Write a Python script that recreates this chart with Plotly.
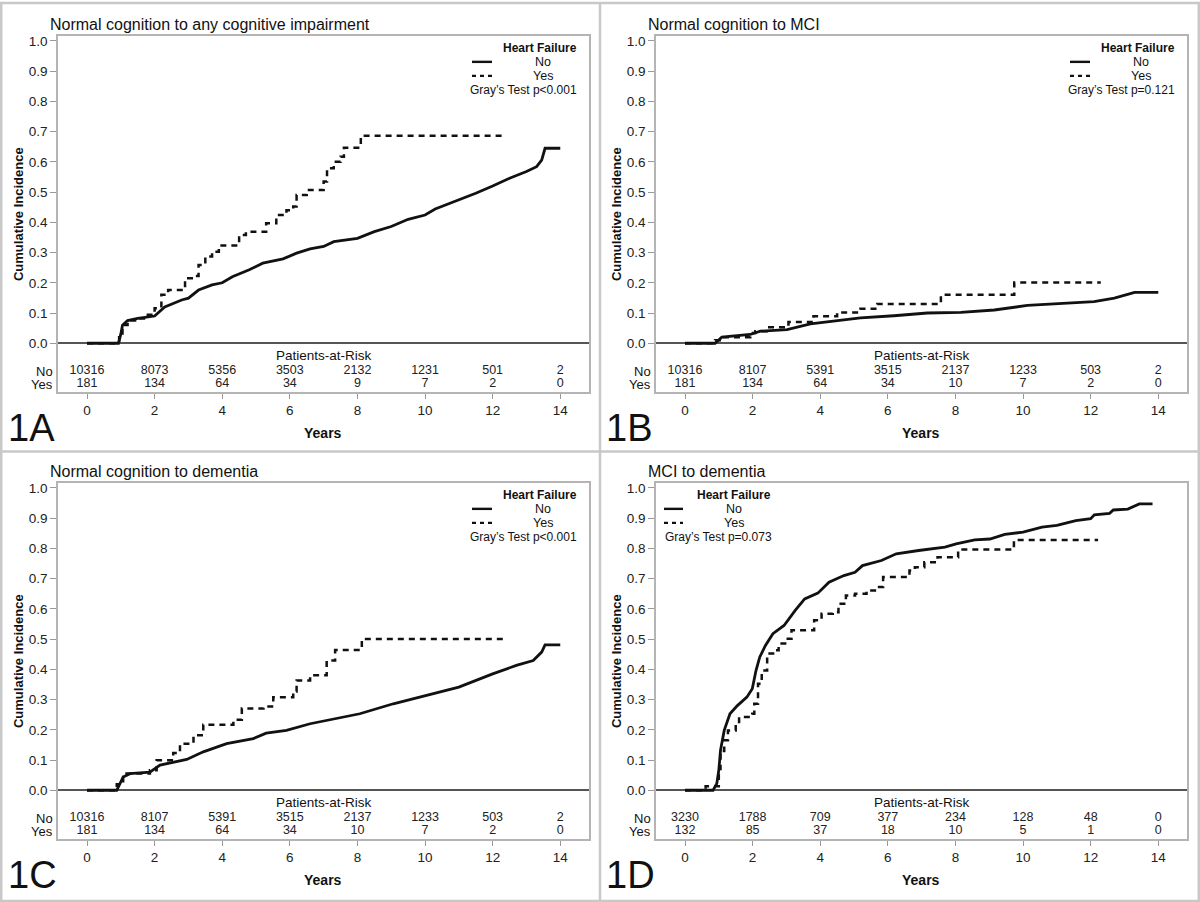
import plotly.graph_objects as go

###############################################################################
# Cumulative incidence of cognitive impairment by heart failure status (1A-1D)
###############################################################################
FONT = "Liberation Sans, Arial, sans-serif"
W, H = 1200, 902

panel_titles = ["Normal cognition to any cognitive impairment",
                "Normal cognition to MCI",
                "Normal cognition to dementia",
                "MCI to dementia"]
panel_labels = ["1A", "1B", "1C", "1D"]
grays_test = ["Gray\u2019s Test p<0.001", "Gray\u2019s Test p=0.121",
              "Gray\u2019s Test p<0.001", "Gray\u2019s Test p=0.073"]

x_ticks = [0, 2, 4, 6, 8, 10, 12, 14]
y_ticks = [0.0, 0.1, 0.2, 0.3, 0.4, 0.5, 0.6, 0.7, 0.8, 0.9, 1.0]
risk_years = [0, 2, 4, 6, 8, 10, 12, 14]

# --- 1A: normal cognition to any cognitive impairment
a_no_t = [0, 0.93, 1.0, 1.05, 1.2, 1.5, 2.0, 2.3, 2.8, 3.0, 3.3, 3.7, 4.0, 4.3, 4.8,
          5.2, 5.8, 6.2, 6.6, 7.0, 7.3, 7.8, 8.0, 8.5, 9.0, 9.5, 10.0, 10.3, 11.0,
          11.5, 12.0, 12.5, 13.0, 13.3, 13.45, 13.55, 14.0]
a_no_ci = [0, 0, 0.03, 0.06, 0.075, 0.082, 0.09, 0.12, 0.143, 0.149, 0.176, 0.193,
           0.2, 0.22, 0.243, 0.265, 0.279, 0.298, 0.312, 0.32, 0.336, 0.345, 0.347,
           0.369, 0.386, 0.41, 0.424, 0.444, 0.474, 0.496, 0.52, 0.546, 0.568,
           0.584, 0.606, 0.645, 0.645]
a_yes_t = [0, 0.95, 1.05, 1.2, 1.5, 1.8, 2.0, 2.2, 2.4, 2.9, 3.1, 3.3, 3.5, 3.7, 3.9,
           4.5, 4.7, 5.3, 5.6, 5.9, 6.1, 6.2, 6.5, 7.0, 7.1, 7.3, 7.5, 7.6, 8.1, 12.3]
a_yes_ci = [0, 0.02, 0.06, 0.075, 0.082, 0.094, 0.116, 0.16, 0.176, 0.215, 0.222,
            0.259, 0.287, 0.303, 0.323, 0.358, 0.369, 0.397, 0.424, 0.44, 0.452,
            0.49, 0.507, 0.535, 0.579, 0.6, 0.617, 0.647, 0.686, 0.686]
a_risk_no = [10316, 8073, 5356, 3503, 2132, 1231, 501, 2]
a_risk_yes = [181, 134, 64, 34, 9, 7, 2, 0]

# --- 1B: normal cognition to MCI
b_no_t = [0, 0.89, 1.09, 1.93, 2.23, 3.02, 3.71, 4.40, 5.19, 6.18, 7.17, 8.16, 9.15,
          10.13, 11.1, 12.1, 12.7, 13.1, 13.3, 14.0]
b_no_ci = [0, 0, 0.02, 0.029, 0.04, 0.045, 0.064, 0.073, 0.084, 0.091, 0.1, 0.102,
           0.11, 0.125, 0.131, 0.138, 0.149, 0.16, 0.168, 0.168]
b_yes_t = [0, 0.89, 1.09, 1.93, 2.08, 2.42, 3.06, 3.8, 4.5, 5.19, 5.69, 7.57, 9.74, 12.3]
b_yes_ci = [0, 0.01, 0.02, 0.034, 0.04, 0.053, 0.07, 0.089, 0.102, 0.114, 0.13,
            0.16, 0.201, 0.201]
b_risk_no = [10316, 8107, 5391, 3515, 2137, 1233, 503, 2]
b_risk_yes = [181, 134, 64, 34, 10, 7, 2, 0]

# --- 1C: normal cognition to dementia
c_no_t = [0, 0.88, 1.07, 1.27, 1.86, 2.16, 2.95, 3.44, 4.13, 4.92, 5.3, 5.9, 6.6,
          7.09, 7.88, 8.07, 9.06, 10.05, 11.0, 12.0, 12.7, 13.2, 13.45, 13.55, 14.0]
c_no_ci = [0, 0, 0.044, 0.055, 0.06, 0.083, 0.102, 0.127, 0.154, 0.171, 0.189,
           0.198, 0.22, 0.231, 0.248, 0.253, 0.286, 0.314, 0.341, 0.385, 0.413,
           0.429, 0.457, 0.481, 0.481]
c_yes_t = [0, 0.88, 1.07, 1.17, 1.86, 2.06, 2.55, 2.75, 3.15, 3.44, 4.33, 4.58, 5.22,
           5.51, 6.1, 6.2, 6.6, 7.09, 7.34, 8.13, 12.3]
c_yes_ci = [0, 0.02, 0.044, 0.055, 0.066, 0.099, 0.123, 0.154, 0.182, 0.217, 0.233,
            0.27, 0.277, 0.308, 0.327, 0.363, 0.38, 0.429, 0.464, 0.5, 0.5]
c_risk_no = [10316, 8107, 5391, 3515, 2137, 1233, 503, 2]
c_risk_yes = [181, 134, 64, 34, 10, 7, 2, 0]

# --- 1D: MCI to dementia
d_no_t = [0, 0.83, 0.94, 1.0, 1.05, 1.16, 1.33, 1.55, 1.83, 1.99, 2.1, 2.21, 2.38,
          2.6, 2.93, 3.26, 3.54, 3.93, 4.26, 4.7, 5.03, 5.25, 5.81, 6.25, 6.91, 7.69,
          8.02, 8.57, 9.02, 9.46, 10.0, 10.56, 11.0, 11.56, 12.0, 12.11, 12.56,
          12.67, 13.1, 13.44, 13.83]
d_no_ci = [0, 0, 0.022, 0.066, 0.132, 0.198, 0.253, 0.28, 0.308, 0.336, 0.396, 0.44,
           0.479, 0.518, 0.545, 0.595, 0.633, 0.652, 0.688, 0.71, 0.721, 0.743, 0.76,
           0.782, 0.793, 0.804, 0.815, 0.828, 0.831, 0.846, 0.854, 0.87, 0.876,
           0.892, 0.898, 0.911, 0.916, 0.927, 0.93, 0.947, 0.947]
d_yes_t = [0, 0.61, 1.0, 1.05, 1.16, 1.27, 1.5, 1.6, 1.99, 2.05, 2.16, 2.27, 2.43,
           2.65, 2.77, 3.04, 3.15, 3.82, 4.04, 4.37, 4.54, 4.76, 5.03, 5.37, 5.7,
           5.86, 6.64, 6.8, 7.08, 7.47, 8.08, 9.73, 12.22]
d_yes_ci = [0, 0.013, 0.07, 0.13, 0.165, 0.198, 0.22, 0.242, 0.253, 0.286, 0.352,
            0.396, 0.452, 0.463, 0.485, 0.501, 0.529, 0.562, 0.584, 0.589, 0.617,
            0.644, 0.65, 0.661, 0.672, 0.705, 0.727, 0.738, 0.754, 0.771, 0.796,
            0.828, 0.828]
d_risk_no = [3230, 1788, 709, 377, 234, 128, 48, 0]
d_risk_yes = [132, 85, 37, 18, 10, 5, 1, 0]
###############################################################################

curves = [(a_no_t, a_no_ci, a_yes_t, a_yes_ci, a_risk_no, a_risk_yes),
          (b_no_t, b_no_ci, b_yes_t, b_yes_ci, b_risk_no, b_risk_yes),
          (c_no_t, c_no_ci, c_yes_t, c_yes_ci, c_risk_no, c_risk_yes),
          (d_no_t, d_no_ci, d_yes_t, d_yes_ci, d_risk_no, d_risk_yes)]

# panel offsets in pixels (A, B, C, D)
offsets = [(0, 0), (598, 0), (0, 448), (598, 448)]
BOX = (58, 34, 589, 391)   # left, top, right, bottom of the 1A plot box


def px(x, y):
    return x / W, 1 - y / H


fig = go.Figure()
annotations = []
shapes = []
GRAY = "#b4b4b4"

for i, (no_t, no_ci, yes_t, yes_ci, r_no, r_yes) in enumerate(curves):
    n = i + 1
    sfx = "" if n == 1 else str(n)
    xa, ya = "x" + sfx, "y" + sfx
    ox, oy = offsets[i]
    L, T, R, B = BOX[0] + ox, BOX[1] + oy, BOX[2] + ox, BOX[3] + oy
    x0, y1 = px(L, T)
    x1, y0 = px(R, B)

    fig.add_trace(go.Scatter(x=no_t, y=no_ci, mode="lines", xaxis=xa, yaxis=ya,
                             line=dict(color="#111", width=2.8, shape="linear"),
                             name="No", showlegend=False))
    fig.add_trace(go.Scatter(x=yes_t, y=yes_ci, mode="lines", xaxis=xa, yaxis=ya,
                             line=dict(color="#111", width=2.5, shape="hv",
                                       dash="6px,5px"),
                             name="Yes", showlegend=False))
    # patients-at-risk rows
    fig.add_trace(go.Scatter(x=risk_years, y=[-0.092] * len(risk_years),
                             text=[str(v) for v in r_no], mode="text",
                             xaxis=xa, yaxis=ya, showlegend=False, cliponaxis=False,
                             textfont=dict(family=FONT, size=12.5, color="#222")))
    fig.add_trace(go.Scatter(x=risk_years, y=[-0.135] * len(risk_years),
                             text=[str(v) for v in r_yes], mode="text",
                             xaxis=xa, yaxis=ya, showlegend=False, cliponaxis=False,
                             textfont=dict(family=FONT, size=12.5, color="#222")))

    axis_common = dict(showline=True, linecolor=GRAY, linewidth=1.5, mirror=True,
                       ticks="outside", tickcolor="#999", tickwidth=1,
                       showgrid=False,
                       tickfont=dict(family=FONT, size=13.5, color="#222"))
    fig.update_layout({
        "xaxis" + sfx: dict(domain=[x0, x1], anchor=ya, range=[-0.858, 14.85],
                            tickvals=x_ticks, ticklen=5, zeroline=False, **axis_common),
        "yaxis" + sfx: dict(domain=[y0, y1], anchor=xa, range=[-0.1617, 1.0165],
                            tickvals=y_ticks, tickformat=".1f", ticklen=6,
                            zeroline=True, zerolinecolor="#555", zerolinewidth=1.5,
                            **axis_common),
    })

    tx, ty = px(48 + ox, 23 + oy)
    annotations.append(dict(text=panel_titles[i], x=tx, y=ty, xref="paper", yref="paper",
                            xanchor="left", yanchor="middle", showarrow=False,
                            font=dict(family=FONT, size=16, color="#111")))
    lx, ly = px(6 + ox, 427 + oy)
    annotations.append(dict(text=panel_labels[i], x=lx, y=ly, xref="paper", yref="paper",
                            xanchor="left", yanchor="middle", showarrow=False,
                            font=dict(family=FONT, size=38, color="#111")))
    yx, yy = px(18 + ox, (T + B) / 2)
    annotations.append(dict(text="<b>Cumulative Incidence</b>", x=yx, y=yy,
                            xref="paper", yref="paper", textangle=-90,
                            xanchor="center", yanchor="middle", showarrow=False,
                            font=dict(family=FONT, size=13, color="#111")))
    vx, vy = px(323 + ox, 432 + oy)
    annotations.append(dict(text="<b>Years</b>", x=vx, y=vy, xref="paper", yref="paper",
                            xanchor="center", yanchor="middle", showarrow=False,
                            font=dict(family=FONT, size=14, color="#111")))
    annotations.append(dict(text="Patients-at-Risk", x=7, y=-0.04, xref=xa, yref=ya,
                            xanchor="center", yanchor="middle", showarrow=False,
                            font=dict(family=FONT, size=13.5, color="#111")))
    for lab, yv in (("No", -0.092), ("Yes", -0.135)):
        annotations.append(dict(text=lab, x=0, y=yv, xref=f"{xa} domain", yref=ya,
                                xanchor="right", yanchor="middle", xshift=-3,
                                showarrow=False,
                                font=dict(family=FONT, size=13, color="#111")))

    # legend block
    if i < 3:
        hf = (R - 10, "right")
        line_x = (R - 117, R - 97)
        txt_x = R - 46
        gt = (R - 10, "right")
    else:
        hf = (L + 78, "center")
        line_x = (L + 8, L + 27)
        txt_x = L + 78
        gt = (L + 7, "left")
    hx, hy = px(hf[0], T + 12)
    annotations.append(dict(text="<b>Heart Failure</b>", x=hx, y=hy, xref="paper",
                            yref="paper", xanchor=hf[1], yanchor="middle",
                            showarrow=False, font=dict(family=FONT, size=12, color="#111")))
    for lab, dy, dash in (("No", 26, "solid"), ("Yes", 40, "4px,4px")):
        sx0, sy = px(line_x[0], T + dy)
        sx1, _ = px(line_x[1], T + dy)
        shapes.append(dict(type="line", xref="paper", yref="paper", x0=sx0, x1=sx1,
                           y0=sy, y1=sy, line=dict(color="#111", width=2.4, dash=dash)))
        nx, _ = px(txt_x, 0)
        annotations.append(dict(text=lab, x=nx, y=sy, xref="paper", yref="paper",
                                xanchor="center", yanchor="middle", showarrow=False,
                                font=dict(family=FONT, size=12.5, color="#111")))
    gx, gy = px(gt[0], T + 54)
    annotations.append(dict(text=grays_test[i], x=gx, y=gy, xref="paper", yref="paper",
                            xanchor=gt[1], yanchor="middle", showarrow=False,
                            font=dict(family=FONT, size=12, color="#111")))

# panel frames
BORDER = dict(color="#c8c8c8", width=2.5)
shapes.append(dict(type="rect", xref="paper", yref="paper", x0=0.001, x1=0.999,
                   y0=0.001, y1=0.999, line=BORDER))
shapes.append(dict(type="line", xref="paper", yref="paper", x0=600 / W, x1=600 / W,
                   y0=0, y1=1, line=BORDER))
shapes.append(dict(type="line", xref="paper", yref="paper", x0=0, x1=1,
                   y0=1 - 450.5 / H, y1=1 - 450.5 / H, line=BORDER))

fig.update_layout(width=W, height=H, margin=dict(l=0, r=0, t=0, b=0),
                  paper_bgcolor="white", plot_bgcolor="white", showlegend=False,
                  annotations=annotations, shapes=shapes,
                  font=dict(family=FONT, color="#111"))

# page body has a default 8px margin; remove it so the figure sits at (0, 0)
fig.write_html("out.html", config={"displayModeBar": False},
               post_script="document.body.style.margin='0';")
